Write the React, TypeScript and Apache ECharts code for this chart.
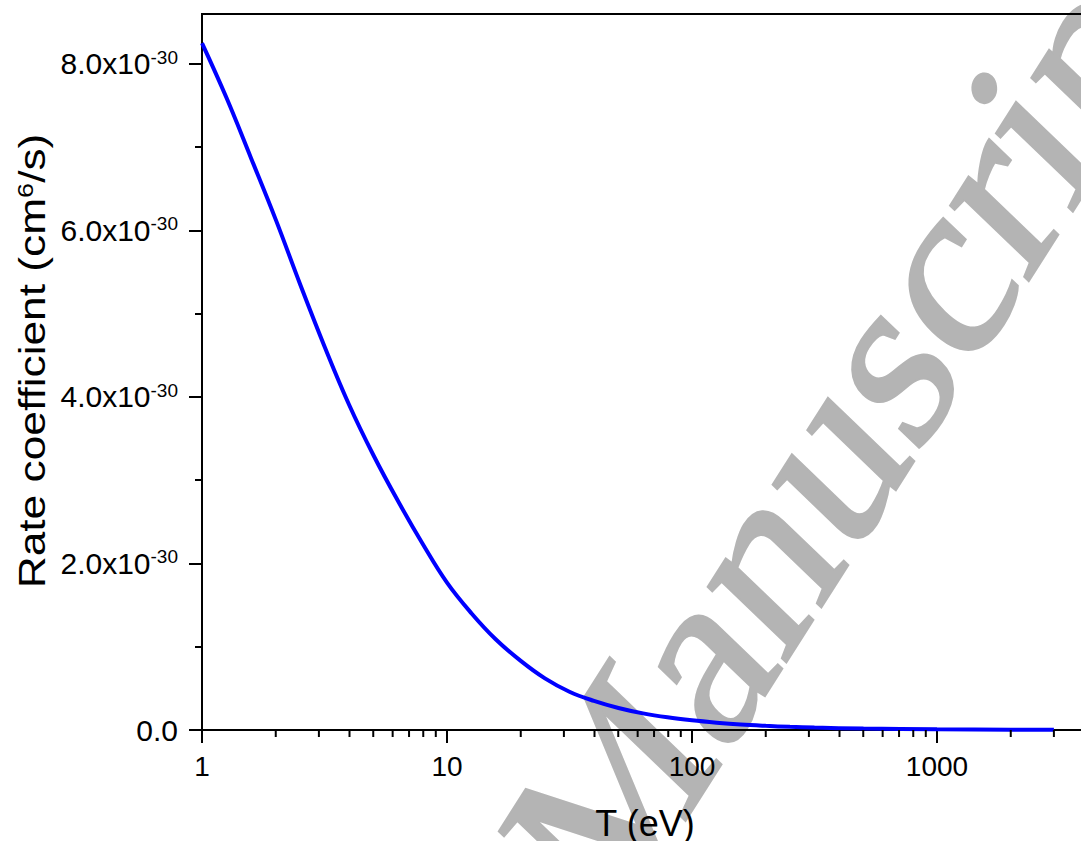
import React, { useEffect, useRef } from 'react';
import * as echarts from 'echarts';

// Electron temperature (eV) and rate coefficient in units of 1e-30 cm^6/s
const temperatureEV = [1, 1.26, 1.58, 2, 2.51, 3.16, 3.98, 5.01, 6.31, 7.94, 10, 12.6, 15.8, 20, 25.1, 31.6, 39.8, 50.1, 63.1, 79.4, 100, 126, 158, 200, 251, 316, 501, 1000, 2000, 3000];
const rateCoeffE30 = [8.25, 7.59, 6.88, 6.13, 5.36, 4.61, 3.91, 3.3, 2.75, 2.24, 1.77, 1.4, 1.09, 0.83, 0.62, 0.46, 0.35, 0.265, 0.2, 0.152, 0.116, 0.088, 0.066, 0.05, 0.038, 0.029, 0.017, 0.008, 0.004, 0.003];

const xMinorTicks = [2, 3, 4, 5, 6, 7, 8, 9, 20, 30, 40, 50, 60, 70, 80, 90, 200, 300, 400, 500, 600, 700, 800, 900, 2000, 3000, 4000, 5000, 6000, 7000, 8000, 9000];
const yTickValues = [0, 2, 4, 6, 8];
const yExponent = '-30';
const xTitle = 'T (eV)';
const yTitleMain = 'Rate coefficient (cm';
const yTitleSup = '6';
const yTitleEnd = '/s)';
const watermarkText = 'Manuscript';

const FONT = 'Liberation Sans, Arial, sans-serif';

export default function App() {
  const ref = useRef<HTMLDivElement>(null);
  useEffect(() => {
    if (!ref.current) return;
    const chart = echarts.init(ref.current, null, { renderer: 'svg' });
    const lineData = temperatureEV.map((t, i) => [t, rateCoeffE30[i]]);
    chart.setOption({
      animation: false,
      backgroundColor: '#fff',
      grid: {
        left: 202,
        top: 14,
        width: 980,
        bottom: 111,
        show: true,
        borderColor: '#000',
        borderWidth: 2,
        outerBoundsMode: 'none',
        containLabel: false,
      },
      xAxis: {
        type: 'log',
        logBase: 10,
        min: 1,
        max: 10000,
        axisLine: { show: true, onZero: false, lineStyle: { color: '#000', width: 2 } },
        axisTick: { show: true, inside: false, length: 13, lineStyle: { color: '#000', width: 2 } },
        minorTick: { show: false },
        splitLine: { show: false },
        axisLabel: {
          margin: 22,
          color: '#000',
          fontSize: 28,
          fontFamily: FONT,
          formatter: (v: number) => String(Math.round(v)),
        },
      },
      yAxis: {
        type: 'value',
        min: 0,
        max: 8.6,
        interval: 2,
        axisLine: { show: true, lineStyle: { color: '#000', width: 2 } },
        axisTick: { show: true, inside: false, length: 13, customValues: yTickValues, lineStyle: { color: '#000', width: 2 } },
        minorTick: { show: true, splitNumber: 2, length: 7, lineStyle: { color: '#000', width: 2 } },
        splitLine: { show: false },
        minorSplitLine: { show: false },
        axisLabel: {
          margin: 24,
          customValues: yTickValues,
          formatter: (v: number) => (v === 0 ? '{a|0.0}' : `{a|${v.toFixed(1)}x10}{s|${yExponent}}`),
          rich: {
            a: { fontSize: 30, fontFamily: FONT, color: '#000', lineHeight: 32 },
            s: { fontSize: 19, fontFamily: FONT, color: '#000', verticalAlign: 'top', lineHeight: 32 },
          },
        },
      },
      series: [
        {
          type: 'line',
          data: lineData,
          showSymbol: false,
          smooth: 0.4,
          lineStyle: { color: '#0000ff', width: 4 },
          z: 3,
        },
        {
          type: 'custom',
          data: xMinorTicks.map((v) => [v, 0]),
          renderItem: (params: any, api: any) => {
            const p = api.coord([api.value(0), 0]);
            return {
              type: 'line',
              shape: { x1: p[0], y1: p[1], x2: p[0], y2: p[1] + 7 },
              style: { stroke: '#000', lineWidth: 2 },
            };
          },
          clip: false,
          z: 4,
          silent: true,
        },
      ],
      graphic: [
        {
          type: 'group',
          x: 0,
          y: 0,
          scaleY: 1.23,
          z: -10,
          silent: true,
          children: [
            {
              type: 'text',
              x: 549.4,
              y: 722.6,
              rotation: (52 * Math.PI) / 180,
              z: -10,
              silent: true,
              style: {
                text: watermarkText,
                fontSize: 215,
                fontFamily: 'Liberation Serif, Times New Roman, serif',
                fill: '#b4b4b4',
                stroke: '#b4b4b4',
                lineWidth: 3,
                align: 'left',
                verticalAlign: 'middle',
              },
            },
          ],
        },
        {
          type: 'text',
          x: 33,
          y: 361,
          rotation: Math.PI / 2,
          scaleX: 1.23,
          style: {
            text: `{t|${yTitleMain}}{s|${yTitleSup}}{t|${yTitleEnd}}`,
            align: 'center',
            verticalAlign: 'middle',
            rich: {
              t: { fontSize: 36, fontFamily: FONT, fill: '#000', lineHeight: 38 },
              s: { fontSize: 22, fontFamily: FONT, fill: '#000', verticalAlign: 'top', lineHeight: 38 },
            },
          },
        },
        {
          type: 'text',
          x: 645,
          y: 823,
          style: {
            text: xTitle,
            fontSize: 36,
            fontFamily: FONT,
            fill: '#000',
            align: 'center',
            verticalAlign: 'middle',
          },
        },
      ],
    });
    return () => chart.dispose();
  }, []);
  return (
    <div style={{ position: 'absolute', left: 0, top: 0, width: 1081, height: 841, overflow: 'hidden', background: '#fff' }}>
      <div ref={ref} style={{ width: 1200, height: 841 }} />
    </div>
  );
}
